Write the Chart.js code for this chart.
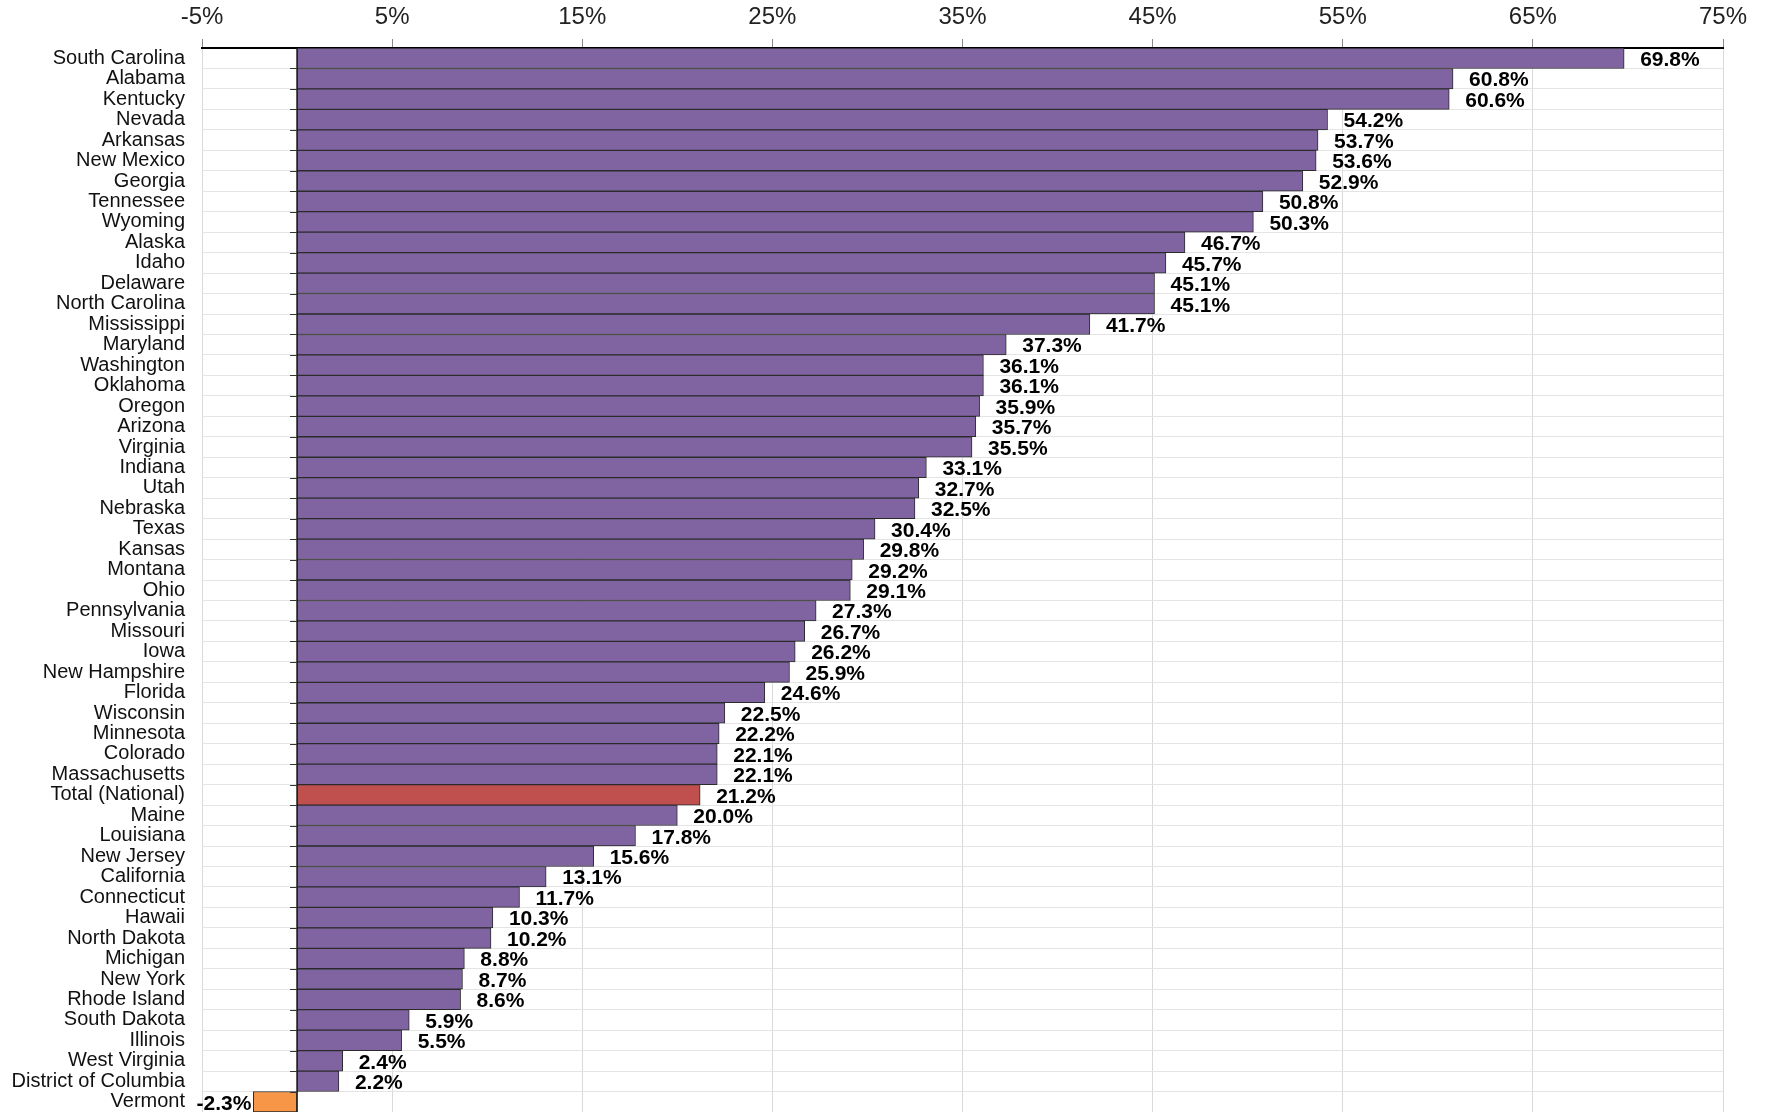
<!DOCTYPE html>
<html>
<head>
<meta charset="utf-8">
<script src="https://cdn.jsdelivr.net/npm/chart.js@4"></script>
<style>
  html, body { margin: 0; padding: 0; background: #ffffff; }
  #chart { display: block; }
</style>
</head>
<body>
<canvas id="chart" width="1767" height="1112"></canvas>
<script>
// Data
const states = [
    'South Carolina', 'Alabama', 'Kentucky', 'Nevada', 'Arkansas', 'New Mexico',
    'Georgia', 'Tennessee', 'Wyoming', 'Alaska', 'Idaho', 'Delaware',
    'North Carolina', 'Mississippi', 'Maryland', 'Washington', 'Oklahoma', 'Oregon',
    'Arizona', 'Virginia', 'Indiana', 'Utah', 'Nebraska', 'Texas',
    'Kansas', 'Montana', 'Ohio', 'Pennsylvania', 'Missouri', 'Iowa',
    'New Hampshire', 'Florida', 'Wisconsin', 'Minnesota', 'Colorado', 'Massachusetts',
    'Total (National)', 'Maine', 'Louisiana', 'New Jersey', 'California', 'Connecticut',
    'Hawaii', 'North Dakota', 'Michigan', 'New York', 'Rhode Island', 'South Dakota',
    'Illinois', 'West Virginia', 'District of Columbia', 'Vermont'
];
const changePct = [
    69.8, 60.8, 60.6, 54.2, 53.7, 53.6,
    52.9, 50.8, 50.3, 46.7, 45.7, 45.1,
    45.1, 41.7, 37.3, 36.1, 36.1, 35.9,
    35.7, 35.5, 33.1, 32.7, 32.5, 30.4,
    29.8, 29.2, 29.1, 27.3, 26.7, 26.2,
    25.9, 24.6, 22.5, 22.2, 22.1, 22.1,
    21.2, 20.0, 17.8, 15.6, 13.1, 11.7,
    10.3, 10.2, 8.8, 8.7, 8.6, 5.9,
    5.5, 2.4, 2.2, -2.3
];
const axisMin = -5;
const axisMax = 75;
const axisStep = 10;
const totalLabel = 'Total (National)';

// Colours
const PURPLE = '#8064a2';
const RED = '#c0504d';
const ORANGE = '#f79646';
const FONT = "'Liberation Sans', Arial, sans-serif";

const barColors = states.map((s, i) => {
    if (s === totalLabel) return RED;
    if (changePct[i] < 0) return ORANGE;
    return PURPLE;
});

// Zero line, small ticks and value labels
const overlayPlugin = {
    id: 'overlay',
    afterDatasetsDraw(chart) {
        const ctx = chart.ctx;
        const x = chart.scales.x;
        const y = chart.scales.y;
        const area = chart.chartArea;
        const x0 = x.getPixelForValue(0);
        const rowH = (area.bottom - area.top) / states.length;

        ctx.save();
        ctx.strokeStyle = '#1a1a1a';
        ctx.lineWidth = 1.5;
        ctx.beginPath();
        ctx.moveTo(x0, area.top);
        ctx.lineTo(x0, area.bottom);
        ctx.stroke();

        ctx.lineWidth = 1;
        ctx.strokeStyle = '#333333';
        for (let i = 1; i < states.length; i++) {
            const yy = Math.round(area.top + i * rowH) + 0.5;
            ctx.beginPath();
            ctx.moveTo(x0 - 7, yy);
            ctx.lineTo(x0, yy);
            ctx.stroke();
        }

        ctx.fillStyle = '#000000';
        ctx.font = 'bold 21px ' + FONT;
        ctx.textBaseline = 'middle';
        changePct.forEach((v, i) => {
            const yc = y.getPixelForValue(i) + 2;
            const xe = x.getPixelForValue(v);
            const txt = v.toFixed(1) + '%';
            if (v >= 0) {
                ctx.textAlign = 'left';
                ctx.fillText(txt, xe + 16, yc);
            } else {
                ctx.textAlign = 'right';
                ctx.fillText(txt, xe - 2, yc);
            }
        });
        ctx.restore();
    }
};

const ctx = document.getElementById('chart').getContext('2d');
const chart = new Chart(ctx, {
    type: 'bar',
    data: {
        labels: states,
        datasets: [{
            data: changePct,
            backgroundColor: barColors,
            borderColor: '#2b2b2b',
            borderWidth: 1,
            borderSkipped: false,
            barPercentage: 1,
            categoryPercentage: 1
        }]
    },
    options: {
        indexAxis: 'y',
        responsive: false,
        animation: false,
        devicePixelRatio: 1,
        layout: {
            padding: { left: 0, right: 44, top: 0, bottom: 0 }
        },
        plugins: {
            legend: { display: false },
            tooltip: { enabled: false }
        },
        scales: {
            x: {
                position: 'top',
                min: axisMin,
                max: axisMax,
                afterFit(scale) {
                    scale.height = 48;
                },
                ticks: {
                    stepSize: axisStep,
                    color: '#222222',
                    font: { family: FONT, size: 24 },
                    padding: 7,
                    callback: v => v + '%'
                },
                grid: {
                    color: '#d9d9d9',
                    lineWidth: 1,
                    tickLength: 9,
                    tickColor: '#888888'
                },
                border: {
                    display: true,
                    color: '#000000',
                    width: 2
                }
            },
            y: {
                afterFit(scale) {
                    scale.width = 202;
                    scale.paddingTop = 0;
                    scale.paddingBottom = 0;
                },
                ticks: {
                    color: '#111111',
                    font: { family: FONT, size: 20 },
                    padding: 17,
                    autoSkip: false
                },
                grid: {
                    color: '#e4e4e4',
                    lineWidth: 1,
                    drawTicks: false,
                    offset: true
                },
                border: { display: false }
            }
        }
    },
    plugins: [overlayPlugin]
});
</script>
</body>
</html>
